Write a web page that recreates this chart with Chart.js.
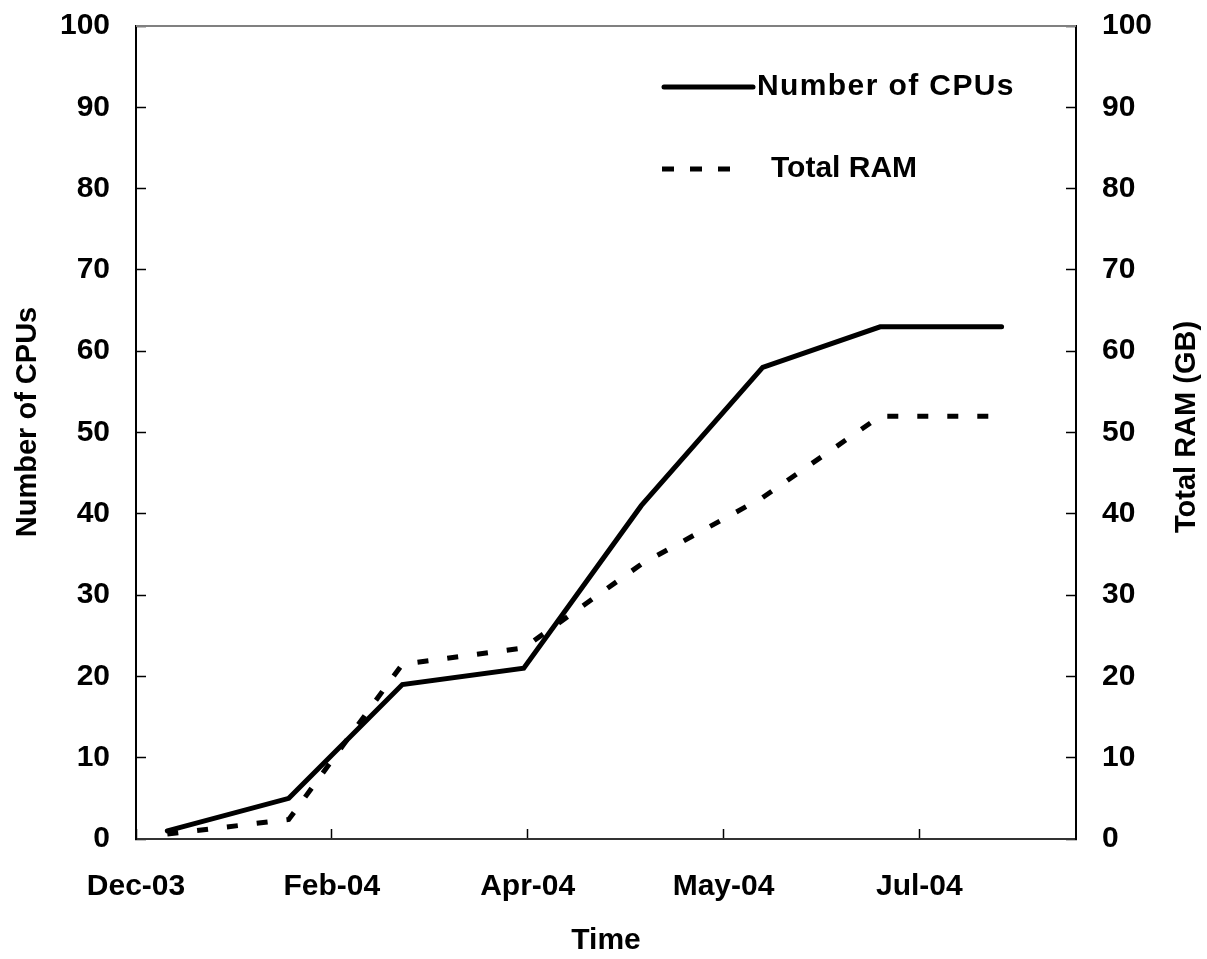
<!DOCTYPE html>
<html>
<head>
<meta charset="utf-8">
<script src="https://cdn.jsdelivr.net/npm/chart.js@4.4.1/dist/chart.umd.min.js"></script>
<style>
  html, body { margin: 0; padding: 0; background: #fff; }
  #wrap { width: 1207px; height: 959px; position: relative; }
</style>
</head>
<body>
<div id="wrap"><canvas id="chart"></canvas></div>
<script>
// monthly samples (1st of each month)
const sampleDates = ["2004-01-01", "2004-02-01", "2004-03-01", "2004-04-01",
                     "2004-05-01", "2004-06-01", "2004-07-01", "2004-08-01"];
const cpuCount = [1, 5, 19, 21, 41, 58, 63, 63];
const totalRamGB = [0.6, 2.4, 21.5, 23.5, 33.8, 42, 52, 52];

// x axis: days from axisStart, labelled every 50 days
const axisStart = "2003-12-24";
const axisLength = 240;
const tickEvery = 50;
const monthNames = ["Jan", "Feb", "Mar", "Apr", "May", "Jun",
                    "Jul", "Aug", "Sep", "Oct", "Nov", "Dec"];
const yMin = 0, yMax = 100, yStep = 10;

const leftTitle = "Number of CPUs";
const rightTitle = "Total RAM (GB)";
const xTitle = "Time";

const DAY = 86400000;
const dayOf = s => Date.parse(s + "T00:00:00Z") / DAY;
const start = dayOf(axisStart);
const xs = sampleDates.map(d => dayOf(d) - start);

function dateLabel(v) {
  if (v % tickEvery !== 0) return "";
  const d = new Date((start + v) * DAY);
  return monthNames[d.getUTCMonth()] + "-" + String(d.getUTCFullYear()).slice(2);
}

const FONT = '"Liberation Sans", Arial, sans-serif';
Chart.defaults.font.family = FONT;
Chart.defaults.color = "#000";

const insideLegend = {
  id: "insideLegend",
  afterDatasetsDraw(chart) {
    const ctx = chart.ctx;
    const rows = [
      { y: 87, x0: 664, x1: 753, textX: 757, dash: [], spacing: "1.4px" },
      { y: 169, x0: 662, x1: 731, textX: 771, dash: [12, 16], spacing: "0px" }
    ];
    chart.data.datasets.forEach((ds, i) => {
      const r = rows[i];
      ctx.save();
      ctx.strokeStyle = ds.borderColor;
      ctx.lineWidth = ds.borderWidth;
      ctx.lineCap = ds.borderCapStyle;
      ctx.setLineDash(r.dash);
      ctx.beginPath();
      ctx.moveTo(r.x0, r.y);
      ctx.lineTo(r.x1, r.y);
      ctx.stroke();
      ctx.setLineDash([]);
      ctx.fillStyle = "#000";
      ctx.font = "bold 30px " + FONT;
      ctx.letterSpacing = r.spacing;
      ctx.textBaseline = "middle";
      ctx.textAlign = "left";
      ctx.fillText(ds.label, r.textX, r.y);
      ctx.restore();
    });
  }
};

const frameAndTitles = {
  id: "frameAndTitles",
  beforeDatasetsDraw(chart) {
    const { ctx, chartArea: a } = chart;
    ctx.save();
    ctx.strokeStyle = "#808080";
    ctx.lineWidth = 2;
    ctx.beginPath();
    ctx.moveTo(a.left, a.top);
    ctx.lineTo(a.right, a.top);
    ctx.stroke();
    ctx.restore();
  },
  afterDraw(chart) {
    const ctx = chart.ctx;
    ctx.save();
    ctx.fillStyle = "#000";
    ctx.font = "bold 29px " + FONT;
    ctx.textAlign = "center";
    ctx.textBaseline = "middle";
    [[leftTitle, 28, 422], [rightTitle, 1187, 427]].forEach(([t, x, y]) => {
      ctx.save();
      ctx.translate(x, y);
      ctx.rotate(-Math.PI / 2);
      ctx.fillText(t, 0, 0);
      ctx.restore();
    });
    ctx.restore();
  }
};

const tickFont = { size: 30, weight: "bold", family: FONT };

function fitY(w) {
  return s => {
    s.width = w;
    s.paddingTop = 0;
    s.paddingBottom = 0;
  };
}

new Chart(document.getElementById("chart"), {
  type: "line",
  data: {
    datasets: [
      {
        label: "Number of CPUs",
        data: xs.map((x, i) => ({ x: x, y: cpuCount[i] })),
        yAxisID: "y",
        borderColor: "#000",
        borderWidth: 5,
        borderCapStyle: "round",
        borderJoinStyle: "miter",
        pointRadius: 0,
        tension: 0,
        fill: false
      },
      {
        label: "Total RAM",
        data: xs.map((x, i) => ({ x: x, y: totalRamGB[i] })),
        yAxisID: "y2",
        borderColor: "#000",
        borderWidth: 5,
        borderDash: [11, 19],
        borderCapStyle: "butt",
        borderJoinStyle: "miter",
        pointRadius: 0,
        tension: 0,
        fill: false
      }
    ]
  },
  options: {
    responsive: true,
    maintainAspectRatio: false,
    animation: false,
    devicePixelRatio: 1,
    layout: { padding: { left: 0, right: 0, top: 26, bottom: 0 } },
    plugins: {
      legend: { display: false },
      tooltip: { enabled: false }
    },
    scales: {
      x: {
        type: "linear",
        position: "bottom",
        min: 0,
        max: axisLength,
        afterFit: s => { s.height = 120; },
        ticks: {
          stepSize: tickEvery,
          includeBounds: false,
          autoSkip: false,
          maxRotation: 0,
          padding: 40,
          font: tickFont,
          callback: v => dateLabel(v)
        },
        grid: {
          drawOnChartArea: false,
          drawTicks: true,
          tickLength: -10,
          tickColor: "#000",
          tickWidth: 1.5
        },
        border: { color: "#333", width: 2 },
        title: {
          display: true,
          text: xTitle,
          font: { size: 30, weight: "bold", family: FONT },
          padding: { top: 0, bottom: 0 }
        }
      },
      y: {
        type: "linear",
        position: "left",
        min: yMin,
        max: yMax,
        afterFit: fitY(136),
        ticks: { stepSize: yStep, padding: 36, font: tickFont },
        grid: {
          drawOnChartArea: false,
          drawTicks: true,
          tickLength: -10,
          tickColor: "#000",
          tickWidth: 1.5
        },
        border: { color: "#000", width: 2 }
      },
      y2: {
        type: "linear",
        position: "right",
        min: yMin,
        max: yMax,
        afterFit: fitY(131),
        ticks: { stepSize: yStep, padding: 36, font: tickFont },
        grid: {
          drawOnChartArea: false,
          drawTicks: true,
          tickLength: -10,
          tickColor: "#000",
          tickWidth: 1.5
        },
        border: { color: "#000", width: 2 }
      }
    }
  },
  plugins: [insideLegend, frameAndTitles]
});
</script>
</body>
</html>
